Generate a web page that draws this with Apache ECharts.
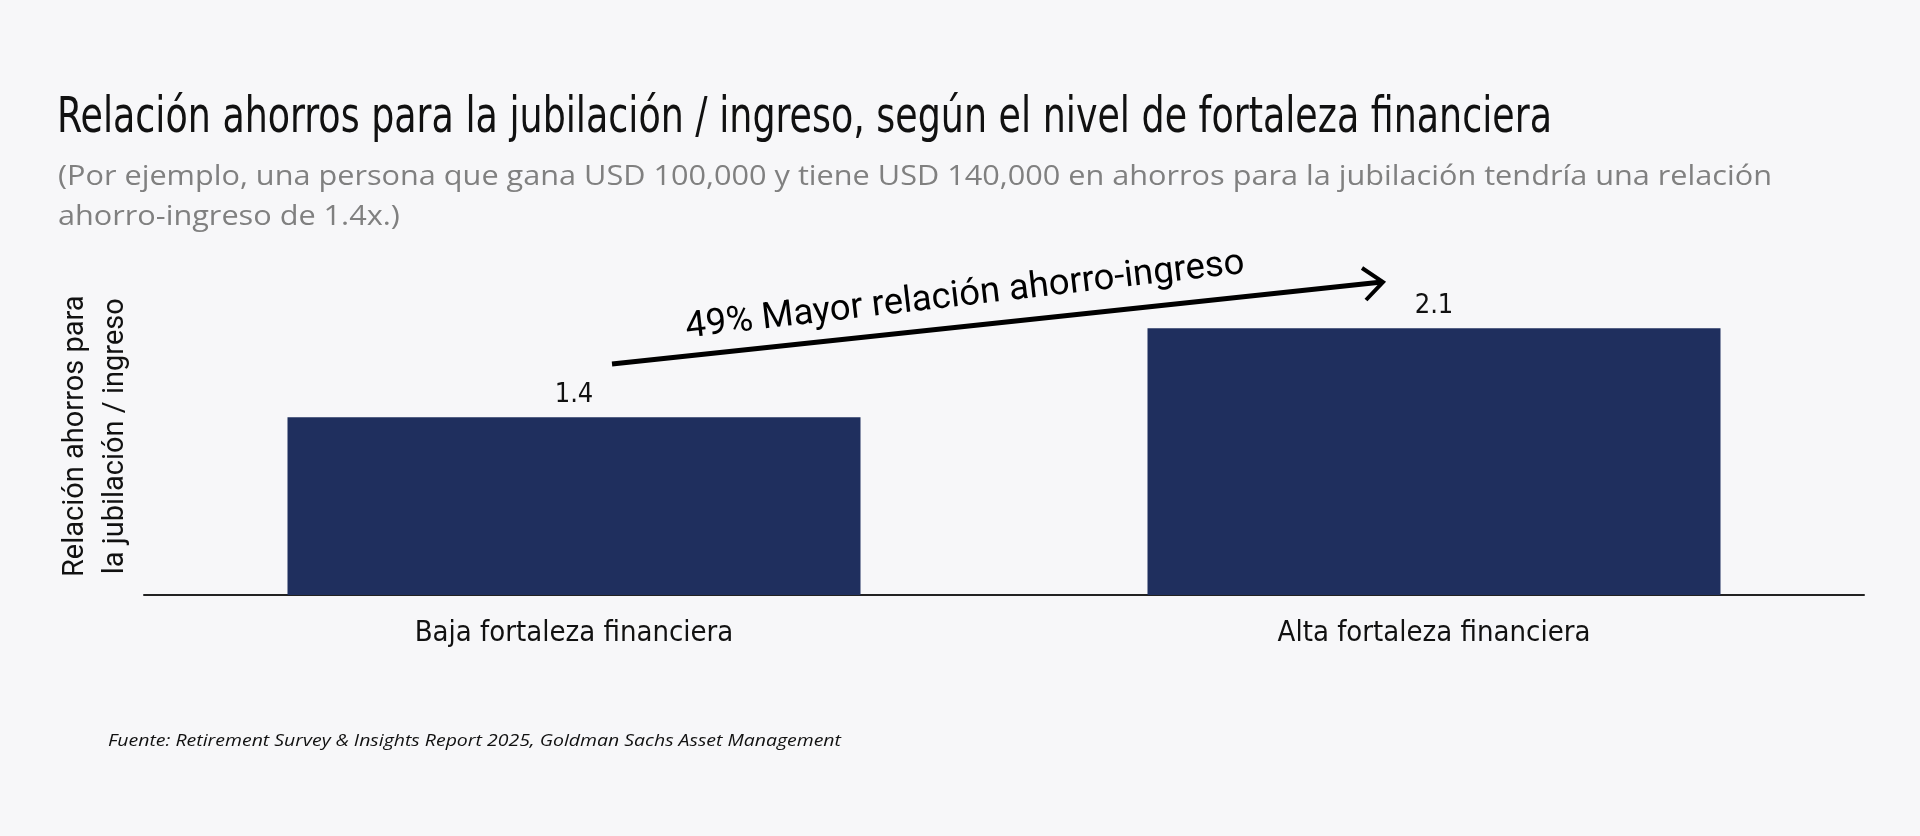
<!DOCTYPE html>
<html><head><meta charset="utf-8">
<script src="https://cdn.jsdelivr.net/npm/echarts@6/dist/echarts.min.js"></script>
<style>html,body{margin:0;padding:0;background:#f7f7f9;}#c{width:1920px;height:836px;}</style>
</head><body><div id="c"></div>
<script>
const categories = ['Baja fortaleza financiera', 'Alta fortaleza financiera'];
const ratios = [1.4, 2.1];
const titleText = 'Relación ahorros para la jubilación / ingreso, según el nivel de fortaleza financiera';
const subtitleLines = ['(Por ejemplo, una persona que gana USD 100,000 y tiene USD 140,000 en ahorros para la jubilación tendría una relación', 'ahorro-ingreso de 1.4x.)'];
const yAxisName = 'Relación ahorros para\nla jubilación / ingreso';
const arrowText = '49% Mayor relación ahorro-ingreso';
const sourceText = 'Fuente: Retirement Survey & Insights Report 2025, Goldman Sachs Asset Management';

const ctx = document.createElement('canvas').getContext('2d');
function textWidth(str, font) { ctx.font = font; return ctx.measureText(str).width; }

const titleFont = { family: '"DejaVu Sans Condensed", "DejaVu Sans", sans-serif', size: 50, style: 'normal' };
const subFont = { family: '"Open Sans", sans-serif', size: 28, style: 'normal' };
const srcFont = { family: '"Open Sans", sans-serif', size: 17, style: 'italic' };
function fontStr(f) { return f.style + ' normal ' + f.size + 'px ' + f.family; }
const titleScale = 1495 / textWidth(titleText, fontStr(titleFont));
const subScale = 1714 / textWidth(subtitleLines[0], fontStr(subFont));
const srcScale = 733 / textWidth(sourceText, fontStr(srcFont));

function fittedText(str, f, x, y, s, color) {
  return { type: 'text', x: x, y: y, scaleX: s, originX: 0, originY: 0,
    style: { text: str, fontFamily: f.family, fontSize: f.size, fontStyle: f.style, fill: color, align: 'left', verticalAlign: 'middle' } };
}

const chart = echarts.init(document.getElementById('c'));
const condensed = '"Liberation Sans Narrow", "DejaVu Sans Condensed", Roboto, sans-serif';
chart.setOption({
  backgroundColor: '#f7f7f9',
  animation: false,
  grid: { left: 144, right: 56, top: 277.5, bottom: 241 },
  xAxis: {
    type: 'category', data: categories,
    axisLine: { lineStyle: { color: '#222', width: 2 } },
    axisTick: { show: false },
    axisLabel: { fontFamily: condensed, fontSize: 29, color: '#111', margin: 24 }
  },
  yAxis: {
    type: 'value', min: 0, max: 2.5,
    axisLine: { show: false }, axisTick: { show: false }, axisLabel: { show: false },
    splitLine: { show: false },
    name: yAxisName, nameLocation: 'middle', nameGap: 8, nameRotate: 90,
    nameTextStyle: { fontFamily: 'Roboto, sans-serif', fontSize: 29, color: '#111', lineHeight: 40 }
  },
  series: [{
    type: 'bar', data: ratios, barWidth: 573,
    itemStyle: { color: '#1f2f5e' },
    label: { show: true, position: 'top', distance: 9, fontFamily: condensed, fontSize: 27, color: '#111' }
  }],
  graphic: [
    fittedText(titleText, titleFont, 57, 119, titleScale, '#111'),
    fittedText(subtitleLines[0], subFont, 58, 177, subScale, '#808080'),
    fittedText(subtitleLines[1], subFont, 58, 217, subScale, '#808080'),
    fittedText(sourceText, srcFont, 108, 741, srcScale, '#111'),
    { type: 'line', shape: { x1: 612, y1: 364, x2: 1382, y2: 282 }, style: { stroke: '#000', lineWidth: 5 } },
    { type: 'polyline', shape: { points: [[1362, 268], [1383, 282], [1366, 300]] }, style: { stroke: '#000', lineWidth: 4, fill: null } },
    { type: 'text', x: 965, y: 296, rotation: 6.6 * Math.PI / 180,
      style: { text: arrowText, fontFamily: 'Roboto, sans-serif', fontSize: 36.5, fill: '#000', align: 'center', verticalAlign: 'middle' } }
  ]
});
</script></body></html>
